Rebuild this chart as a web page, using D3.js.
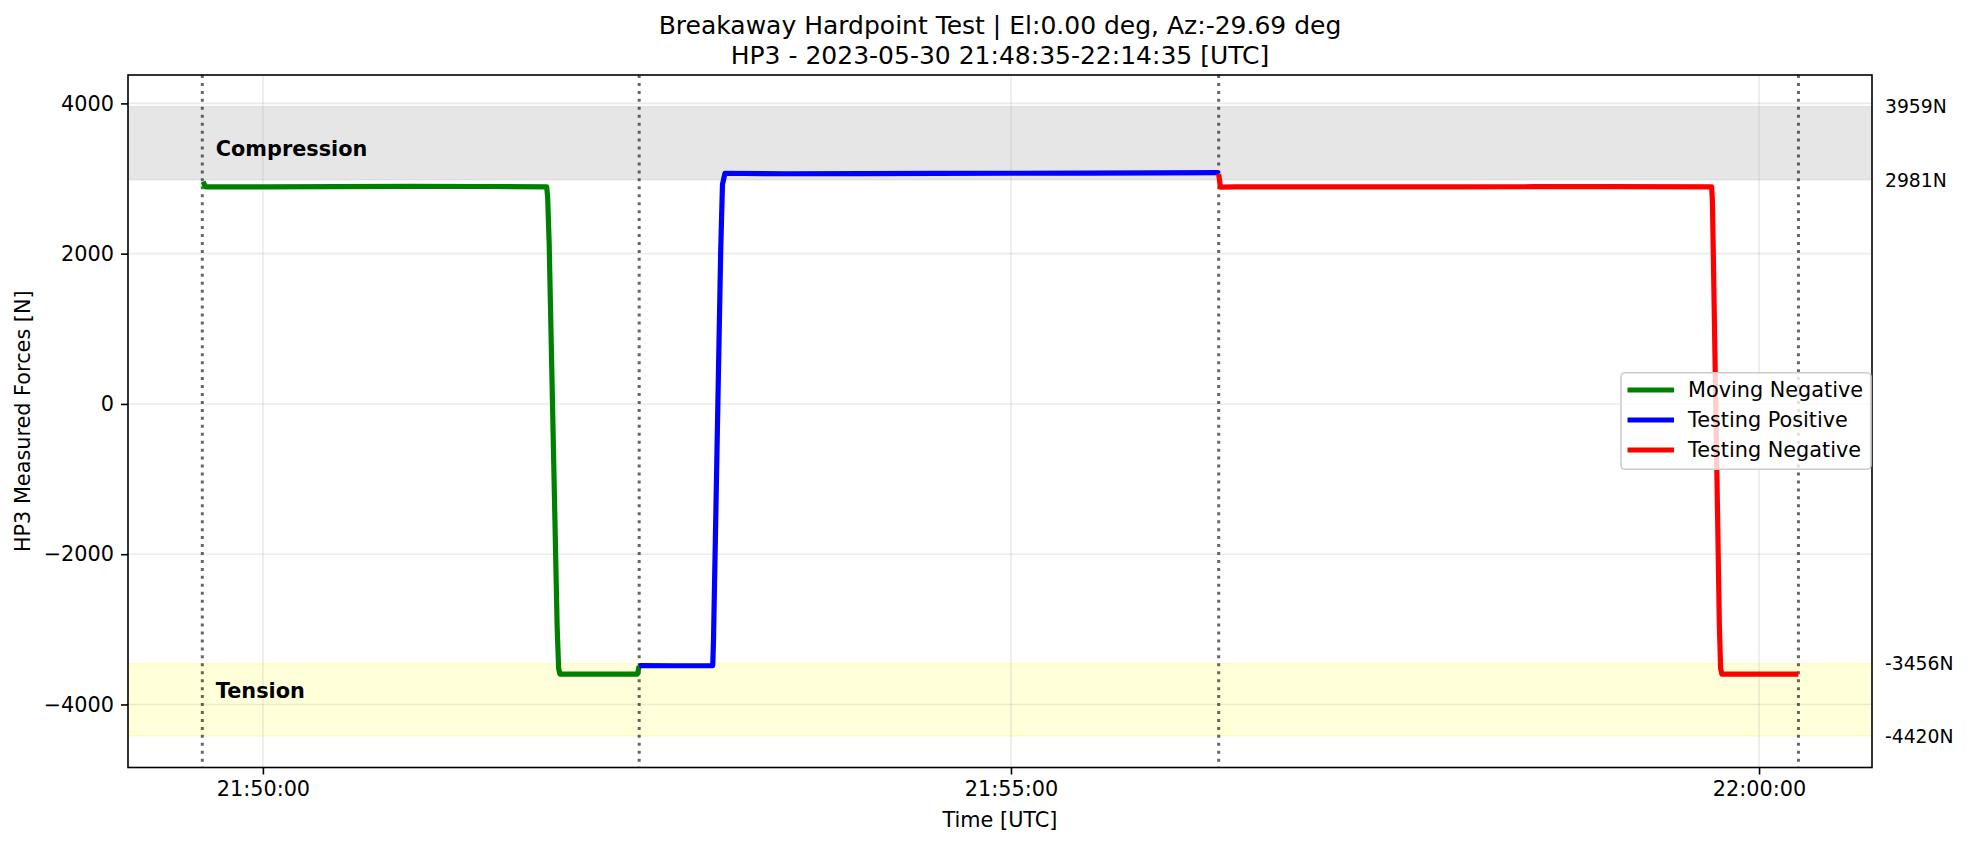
<!DOCTYPE html>
<html><head><meta charset="utf-8">
<script src="https://cdn.jsdelivr.net/npm/d3@7"></script>
<style>
html,body{margin:0;padding:0;background:#fff;}
svg{display:block;font-family:"DejaVu Sans",sans-serif;}
</style></head>
<body>
<svg id="chart" width="1967" height="846"></svg>
<script>
// ---------------- data ----------------
const titleLines = ["Breakaway Hardpoint Test | El:0.00 deg, Az:-29.69 deg",
                    "HP3 - 2023-05-30 21:48:35-22:14:35 [UTC]"];
const seriesNames = ["Moving Negative", "Testing Positive", "Testing Negative"];
const seriesColors = ["green", "blue", "red"];

const movingNegTimes = ["21:49:36.0","21:49:37.0","21:50:00","21:50:30","21:51:00","21:51:30","21:51:53.8","21:51:54.2","21:51:54.8","21:51:58.0","21:51:58.6","21:51:59.1","21:52:15","21:52:30.2","21:52:30.9"];
const movingNegVals  = [2958, 2890, 2888, 2893, 2896, 2894, 2890, 2750, 2140, -2965, -3520, -3595, -3596, -3595, -3488];

const testPosTimes = ["21:52:30.9","21:52:31.5","21:52:45","21:53:00.4","21:53:00.7","21:53:03.6","21:53:04.3","21:53:05.3","21:53:30","21:54:00","21:54:30","21:55:00","21:55:30","21:56:00","21:56:22.9","21:56:23.3"];
const testPosVals  = [-3492, -3484, -3485, -3482, -3150, 2050, 2920, 3070, 3064, 3066, 3068, 3070, 3072, 3074, 3078, 3062];

const testNegTimes = ["21:56:23.3","21:56:24.0","21:56:30","21:57:00","21:57:30","21:58:00","21:58:30","21:59:00","21:59:41.0","21:59:41.3","21:59:41.7","21:59:44.1","21:59:44.6","21:59:45.1","22:00:00","22:00:15.8"];
const testNegVals  = [3060, 2885, 2888, 2890, 2890, 2889, 2891, 2892, 2888, 2700, 1920, -2965, -3520, -3596, -3597, -3597];

const phaseLineTimes = ["21:49:35.7","21:52:30.9","21:56:23.3","22:00:15.8"];

const compressionBand = [2981, 3959];
const tensionBand = [-4420, -3456];
const bandLabels = ["Compression", "Tension"];
const bandValueLabels = ["3959N", "2981N", "-3456N", "-4420N"];
const bandValues = [3959, 2981, -3456, -4420];

const yTicks = [-4000, -2000, 0, 2000, 4000];
const xTickLabels = ["21:50:00", "21:55:00", "22:00:00"];
const xDomainTimes = ["21:49:05.9", "22:00:45.3"];
const yDomain = [-4839, 4378];

const xLabel = "Time [UTC]";
const yLabel = "HP3 Measured Forces [N]";

// ---------------- helpers ----------------
function t(s) {
  const [h, m, sec] = s.split(":");
  const secF = parseFloat(sec);
  const whole = Math.floor(secF);
  const ms = Math.round((secF - whole) * 1000);
  return new Date(Date.UTC(2023, 4, 30, +h, +m, whole, ms));
}
function zip(ts, vs) { return ts.map((d, i) => ({t: t(d), v: vs[i]})); }
const seriesData = [zip(movingNegTimes, movingNegVals), zip(testPosTimes, testPosVals), zip(testNegTimes, testNegVals)];

// ---------------- layout ----------------
const L = 128, R = 1872, T = 75, B = 767.5;
const FS = 20.8, FS_T = 25, FS_S = 18.75;

const svg = d3.select("#chart");
const x = d3.scaleUtc().domain(xDomainTimes.map(t)).range([L, R]);
const y = d3.scaleLinear().domain(yDomain).range([B, T]);

svg.append("defs").append("clipPath").attr("id", "clip")
  .append("rect").attr("x", L).attr("y", T).attr("width", R - L).attr("height", B - T);

const plot = svg.append("g").attr("clip-path", "url(#clip)");

// bands
plot.append("rect").attr("x", L).attr("width", R - L)
  .attr("y", y(compressionBand[1])).attr("height", y(compressionBand[0]) - y(compressionBand[1]))
  .attr("fill", "gray").attr("fill-opacity", 0.2)
  .attr("stroke", "gray").attr("stroke-opacity", 0.12).attr("stroke-width", 1.5);
plot.append("rect").attr("x", L).attr("width", R - L)
  .attr("y", y(tensionBand[1])).attr("height", y(tensionBand[0]) - y(tensionBand[1]))
  .attr("fill", "yellow").attr("fill-opacity", 0.15)
  .attr("stroke", "#e6e600").attr("stroke-opacity", 0.15).attr("stroke-width", 1.5);

// grid
const xTickDates = xTickLabels.map(t);
plot.append("g").selectAll("line").data(yTicks).join("line")
  .attr("x1", L).attr("x2", R).attr("y1", d => y(d)).attr("y2", d => y(d))
  .attr("stroke", "#b0b0b0").attr("stroke-opacity", 0.25).attr("stroke-width", 1.6);
plot.append("g").selectAll("line").data(xTickDates).join("line")
  .attr("y1", T).attr("y2", B).attr("x1", d => x(d)).attr("x2", d => x(d))
  .attr("stroke", "#b0b0b0").attr("stroke-opacity", 0.25).attr("stroke-width", 1.6);

// phase lines
plot.append("g").selectAll("line").data(phaseLineTimes.map(t)).join("line")
  .attr("x1", d => x(d)).attr("x2", d => x(d)).attr("y1", T).attr("y2", B)
  .attr("stroke", "black").attr("stroke-opacity", 0.6).attr("stroke-width", 3)
  .attr("stroke-dasharray", "3,4.95");

// series
const line = d3.line().x(d => x(d.t)).y(d => y(d.v));
plot.append("g").selectAll("path").data(seriesData).join("path")
  .attr("d", line).attr("fill", "none")
  .attr("stroke", (d, i) => seriesColors[i]).attr("stroke-width", 5.2)
  .attr("stroke-linejoin", "round").attr("stroke-linecap", "butt");

// band labels
const t0x = x(t(phaseLineTimes[0]));
svg.append("text").attr("x", t0x + 13.5).attr("y", y(compressionBand[1]) + 49.5)
  .attr("font-size", FS).attr("font-weight", "bold").text(bandLabels[0]);
svg.append("text").attr("x", t0x + 13.5).attr("y", y(tensionBand[1]) + 34.5)
  .attr("font-size", FS).attr("font-weight", "bold").text(bandLabels[1]);

// axes
const xAxis = d3.axisBottom(x).tickValues(xTickDates).tickFormat(d3.utcFormat("%H:%M:%S"))
  .tickSize(7).tickPadding(7);
const yAxis = d3.axisLeft(y).tickValues(yTicks).tickFormat(d => d < 0 ? "\u2212" + Math.abs(d) : d)
  .tickSize(7).tickPadding(7);
const gx = svg.append("g").attr("transform", `translate(0,${B})`).call(xAxis);
const gy = svg.append("g").attr("transform", `translate(${L},0)`).call(yAxis);
[gx, gy].forEach(g => {
  g.select(".domain").remove();
  g.selectAll(".tick line").attr("stroke", "black").attr("stroke-width", 1.6);
  g.selectAll(".tick text").attr("font-size", FS).attr("fill", "black")
    .attr("font-family", "DejaVu Sans");
});
gx.selectAll(".tick text").attr("dy", "0.71em").attr("y", 14);
// frame
svg.append("rect").attr("x", L).attr("y", T).attr("width", R - L).attr("height", B - T)
  .attr("fill", "none").attr("stroke", "black").attr("stroke-width", 1.6);

// right-side band value labels
svg.append("g").selectAll("text").data(bandValues).join("text")
  .attr("x", R + 13).attr("y", d => y(d)).attr("dy", "0.35em")
  .attr("font-size", FS_S).attr("fill", "black")
  .text((d, i) => bandValueLabels[i]);

// titles
svg.append("g").selectAll("text").data(titleLines).join("text")
  .attr("x", (L + R) / 2).attr("y", (d, i) => 34 + i * 30)
  .attr("text-anchor", "middle").attr("font-size", FS_T).attr("fill", "black").text(d => d);

// axis labels
svg.append("text").attr("x", (L + R) / 2).attr("y", 827).attr("text-anchor", "middle")
  .attr("font-size", FS).text(xLabel);
svg.append("text").attr("transform", `translate(29.5,${(T + B) / 2}) rotate(-90)`)
  .attr("text-anchor", "middle").attr("font-size", FS).text(yLabel);

// legend
const lg = svg.append("g");
lg.append("rect").attr("x", 1621).attr("y", 372.7).attr("width", 250).attr("height", 96.6)
  .attr("rx", 4).attr("fill", "white").attr("fill-opacity", 0.8)
  .attr("stroke", "#cccccc").attr("stroke-width", 1.6);
seriesNames.forEach((name, i) => {
  const cy = 390 + i * 30;
  lg.append("line").attr("x1", 1627.5).attr("x2", 1674).attr("y1", cy).attr("y2", cy)
    .attr("stroke", seriesColors[i]).attr("stroke-width", 5.2);
  lg.append("text").attr("x", 1688).attr("y", cy).attr("dy", "0.35em")
    .attr("font-size", FS).attr("fill", "black").text(name);
});
</script>
</body></html>
